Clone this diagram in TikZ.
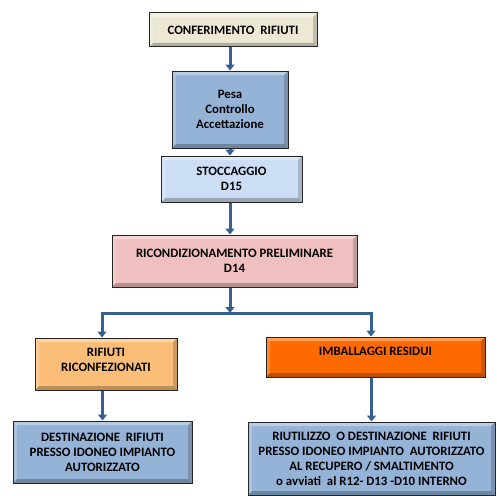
\documentclass[tikz,border=0pt]{standalone}
\usepackage{fontspec}
\setmainfont{Carlito}
\usetikzlibrary{arrows.meta}

\definecolor{beige}{RGB}{236,232,212}
\definecolor{celeste}{RGB}{149,179,215}
\definecolor{celestechiaro}{RGB}{204,222,245}
\definecolor{rosa}{RGB}{240,192,192}
\definecolor{arancio}{RGB}{250,190,120}
\definecolor{aranciopieno}{RGB}{255,106,0}
\definecolor{freccia}{RGB}{55,96,146}

\begin{document}
\begin{tikzpicture}[
    x=1pt, y=-1pt,
    font=\bfseries\fontsize{12.8}{15}\selectfont,
    box/.style={draw=black!85, line width=1pt, align=center,
      inner sep=0pt,
      path picture={
        % smusso chiaro in alto a sinistra
        \fill[white, opacity=0.35]
          (path picture bounding box.north west) -- (path picture bounding box.north east)
          -- ([shift={(-4pt,-4pt)}]path picture bounding box.north east)
          -- ([shift={(4pt,-4pt)}]path picture bounding box.north west) -- cycle;
        \fill[white, opacity=0.2]
          (path picture bounding box.north west) -- (path picture bounding box.south west)
          -- ([shift={(4pt,4pt)}]path picture bounding box.south west)
          -- ([shift={(4pt,-4pt)}]path picture bounding box.north west) -- cycle;
        % smusso scuro in basso a destra
        \fill[black, opacity=0.25]
          (path picture bounding box.south west) -- (path picture bounding box.south east)
          -- ([shift={(-4pt,4pt)}]path picture bounding box.south east)
          -- ([shift={(4pt,4pt)}]path picture bounding box.south west) -- cycle;
        \fill[black, opacity=0.18]
          (path picture bounding box.north east) -- (path picture bounding box.south east)
          -- ([shift={(-4pt,4pt)}]path picture bounding box.south east)
          -- ([shift={(-4pt,-4pt)}]path picture bounding box.north east) -- cycle;
      }},
    flusso/.style={draw=freccia, line width=3pt,
      -{Triangle[width=9pt,length=6pt]}},
    ramo/.style={draw=freccia, line width=3pt, line cap=rect}
]
\useasboundingbox (0,0) rectangle (497,495);

% colonna centrale
\node[box, fill=beige, minimum width=168pt, minimum height=34pt]
  (conf) at (233,30) {CONFERIMENTO\ \ RIFIUTI};
\node[box, fill=celeste, minimum width=116pt, minimum height=77pt]
  (pesa) at (230,109.5) {Pesa\\Controllo\\Accettazione};
\node[box, fill=celestechiaro, minimum width=141pt, minimum height=46pt]
  (stocc) at (231.5,179) {STOCCAGGIO\\D15};
\node[box, fill=rosa, minimum width=245pt, minimum height=52pt]
  (ricon) at (234.5,261) {RICONDIZIONAMENTO PRELIMINARE\\D14};

% ramo sinistro
\node[box, fill=arancio, minimum width=142pt, minimum height=52pt, text depth=9pt]
  (riconf) at (106,364) {RIFIUTI\\RICONFEZIONATI};
\node[box, fill=celeste, minimum width=179pt, minimum height=62pt]
  (dest) at (102.5,452) {DESTINAZIONE\ \ RIFIUTI\\PRESSO IDONEO IMPIANTO\\AUTORIZZATO};

% ramo destro
\node[box, fill=aranciopieno, minimum width=219pt, minimum height=40pt, text depth=11pt]
  (imball) at (375.5,357) {IMBALLAGGI RESIDUI};
\node[box, fill=celeste, minimum width=247pt, minimum height=73pt]
  (riut) at (371.5,458.5) {RIUTILIZZO\ \ O DESTINAZIONE\ \ RIFIUTI\\
  PRESSO IDONEO IMPIANTO\ \ AUTORIZZATO\\AL RECUPERO / SMALTIMENTO\\
  o avviati\ \ al R12- D13 -D10 INTERNO};

% punti di diramazione
\coordinate (split) at (230,313);
\coordinate (splitsx) at (102,313);
\coordinate (splitdx) at (371,313);

% frecce
\draw[flusso] (split |- conf.south) -- (split |- pesa.north);
\draw[flusso] (split |- pesa.south) -- (split |- stocc.north);
\draw[flusso] (split |- stocc.south) -- (split |- ricon.north);
\draw[flusso] (split |- ricon.south) -- (split);
\draw[ramo] (splitsx) -- (splitdx);
\draw[flusso] (splitsx) -- (splitsx |- riconf.north);
\draw[flusso] (splitdx) -- (splitdx |- imball.north);
\draw[flusso] (dest.north |- riconf.south) -- (dest.north);
\draw[flusso] (riut.north |- imball.south) -- (riut.north);

\end{tikzpicture}
\end{document}
